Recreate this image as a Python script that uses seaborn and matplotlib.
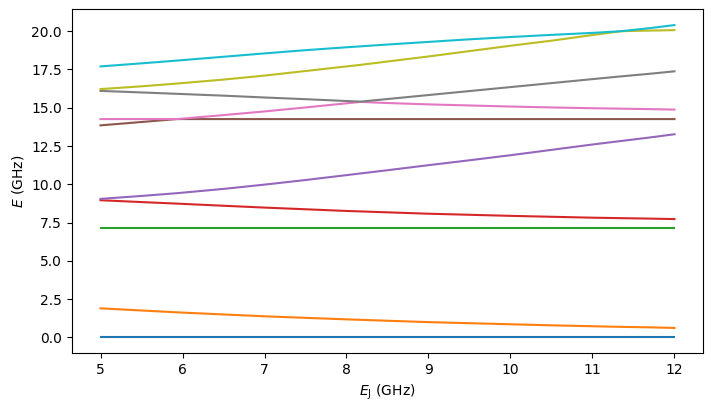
import numpy as np
import pandas as pd
import matplotlib
matplotlib.use("Agg")
import matplotlib.pyplot as plt
import seaborn as sns

# E_J sweep (GHz) - extra samples near the level crossings
ej = [5.0, 5.5, 5.93, 6.5, 7.0, 7.5, 8.0, 8.17, 8.5, 9.0, 9.5, 10.0, 10.5, 11.0, 11.35, 11.7, 12.0]

# energy levels (GHz)
level0 = [0.0] * 17
level1 = [1.90, 1.76, 1.64, 1.50, 1.38, 1.28, 1.18, 1.15, 1.09, 1.00, 0.93, 0.86, 0.79, 0.73, 0.69, 0.66, 0.62]
level2 = [7.13] * 17
level3 = [8.96, 8.84, 8.74, 8.60, 8.48, 8.37, 8.26, 8.23, 8.17, 8.08, 8.01, 7.94, 7.88, 7.82, 7.79, 7.76, 7.73]
level4 = [9.05, 9.24, 9.42, 9.70, 9.98, 10.28, 10.60, 10.71, 10.92, 11.25, 11.57, 11.90, 12.25, 12.60, 12.83, 13.06, 13.27]
level5 = [13.85, 14.07, 14.26, 14.26, 14.26, 14.26, 14.26, 14.26, 14.26, 14.26, 14.26, 14.26, 14.26, 14.26, 14.26, 14.26, 14.26]
level6 = [14.26, 14.26, 14.26, 14.52, 14.76, 15.02, 15.29, 15.38, 15.31, 15.22, 15.15, 15.08, 15.02, 14.97, 14.94, 14.91, 14.88]
level7 = [16.10, 16.00, 15.91, 15.79, 15.67, 15.56, 15.44, 15.40, 15.57, 15.83, 16.09, 16.35, 16.61, 16.87, 17.05, 17.22, 17.38]
level8 = [16.22, 16.40, 16.58, 16.84, 17.10, 17.40, 17.70, 17.80, 18.02, 18.35, 18.70, 19.05, 19.38, 19.75, 20.00, 20.04, 20.07]
level9 = [17.70, 17.90, 18.08, 18.33, 18.55, 18.76, 18.95, 19.01, 19.13, 19.30, 19.47, 19.62, 19.76, 19.89, 20.00, 20.20, 20.40]

levels = [level0, level1, level2, level3, level4, level5, level6, level7, level8, level9]

df = pd.concat(
    [pd.DataFrame({"EJ": ej, "E": lv, "level": i}) for i, lv in enumerate(levels)],
    ignore_index=True,
)

fig, ax = plt.subplots(figsize=(7.11, 4.11), dpi=100)
sns.lineplot(data=df, x="EJ", y="E", hue="level", palette="tab10",
             legend=False, ax=ax, linewidth=1.5)

ax.set_xlabel(r"$E_\mathrm{J}$ (GHz)")
ax.set_ylabel(r"$E$ (GHz)")

plt.subplots_adjust(left=0.101, right=0.989, bottom=0.141, top=0.977)
plt.savefig("out.png", dpi=100)
